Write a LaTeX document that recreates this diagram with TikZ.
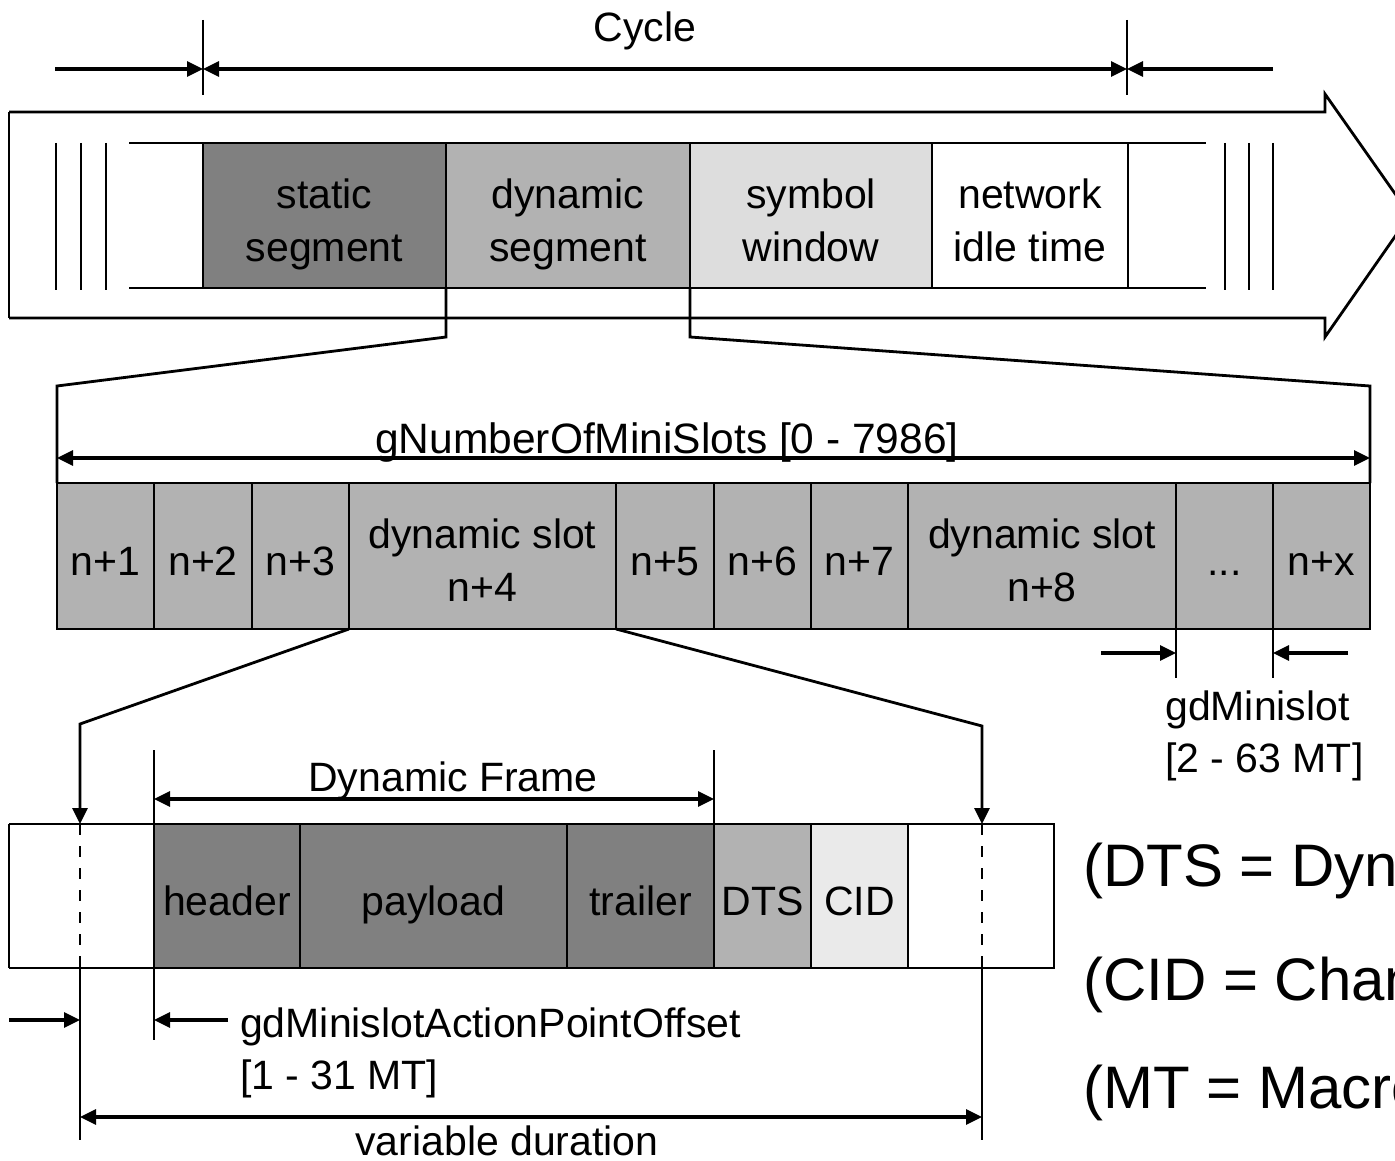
\documentclass[tikz,border=0pt]{standalone}
\usepackage{fontspec}
\setmainfont{Liberation Sans}
\usetikzlibrary{arrows.meta}
\definecolor{gdark}{HTML}{808080}
\definecolor{gmid}{HTML}{B2B2B2}
\definecolor{glight}{HTML}{DDDDDD}
\definecolor{gpale}{HTML}{EAEAEA}
\begin{document}
\begin{tikzpicture}[x=1pt,y=-1pt,
  txt/.style={font=\fontsize{41pt}{53pt}\selectfont, inner sep=0pt},
  lbl/.style={txt, align=center, yshift=-8.5pt},
  legend/.style={font=\fontsize{60pt}{72pt}\selectfont, inner sep=0pt, anchor=base west},
  box/.style={draw, line width=2.8pt, inner sep=0pt, outer sep=0pt, anchor=north west},
  tip/.style={-{Triangle[length=16pt,width=15pt]}},
  dim/.style={line width=3.2pt, -{Triangle[length=16pt,width=15pt]}},
  ddim/.style={line width=3.2pt, {Triangle[length=16pt,width=15pt]}-{Triangle[length=16pt,width=15pt]}},
  tickline/.style={line width=2.5pt},
  edge/.style={line width=2.8pt},
  thinedge/.style={line width=1.4pt},
]
\useasboundingbox (0,0) rectangle (1395,1161);
\clip (0,0) rectangle (1395,1161);

% ---------- Cycle dimension ----------
\coordinate (cyL) at (55,69);
\coordinate (cyA) at (203,69);
\coordinate (cyB) at (1127,69);
\coordinate (cyR) at (1273,69);
\coordinate (tkA1) at (203,20);
\coordinate (tkA2) at (203,95);
\coordinate (tkB1) at (1127,20);
\coordinate (tkB2) at (1127,95);
\draw[tickline] (tkA1) -- (tkA2);
\draw[tickline] (tkB1) -- (tkB2);
\draw[dim] (cyL) -- (cyA);
\draw[ddim] (cyA) -- (cyB);
\draw[dim] (cyR) -- (cyB);
\node[txt, anchor=base] (cycle) at (645,42) {Cycle};

% ---------- big arrow ----------
\draw[edge, line join=miter] (9,112) -- (1325,112) -- (1325,94) -- (1410,215) -- (1325,337) -- (1325,318) -- (9,318);
\draw[thinedge] (9,112) -- (9,318);
\draw[edge] (129,143) -- (1206,143);
\draw[edge] (129,288) -- (1206,288);
\foreach \x in {56,81,106,1225,1249,1273} \draw[edge] (\x,143) -- (\x,290);

% ---------- segments ----------
\node[box, fill=gdark, minimum width=243pt, minimum height=145pt] (static) at (203,143) {};
\node[box, fill=gmid, minimum width=244pt, minimum height=145pt] (dynseg) at (446,143) {};
\node[box, fill=glight, minimum width=242pt, minimum height=145pt] (symwin) at (690,143) {};
\node[box, fill=white, minimum width=196pt, minimum height=145pt] (nit) at (932,143) {};
\node[lbl] (lstatic) at (static) {\strut static\\\strut segment};
\node[lbl] (ldynseg) at (dynseg) {\strut dynamic\\\strut segment};
\node[lbl] (lsymwin) at (symwin) {\strut symbol\\\strut window};
\node[lbl] (lnit) at (nit) {\strut network\\\strut idle time};

% ---------- slots ----------
\foreach \n/\x/\w in {s1/57/97, s2/154/98, s3/252/97, s4/349/267, s5/616/98, s6/714/97, s7/811/97, s8/908/268, s9/1176/97, sx/1273/97}
  \node[box, fill=gmid, minimum width=\w pt, minimum height=146pt] (\n) at (\x,483) {};
\node[lbl] (ls1) at (s1) {\strut n+1};
\node[lbl] (ls2) at (s2) {\strut n+2};
\node[lbl] (ls3) at (s3) {\strut n+3};
\node[lbl] (ls4) at (s4) {\strut dynamic slot\\\strut n+4};
\node[lbl] (ls5) at (s5) {\strut n+5};
\node[lbl] (ls6) at (s6) {\strut n+6};
\node[lbl] (ls7) at (s7) {\strut n+7};
\node[lbl] (ls8) at (s8) {\strut dynamic slot\\\strut n+8};
\node[lbl] (ls9) at (s9) {\strut ...};
\node[lbl] (lsx) at (sx) {\strut n+x};

% connectors segment -> slots
\coordinate (kL1) at (446,337);
\coordinate (kL2) at (57,386);
\coordinate (kR1) at (690,337);
\coordinate (kR2) at (1370,386);
\draw[edge] (dynseg.south west) -- (kL1) -- (kL2) -- (s1.north west);
\draw[edge] (dynseg.south east) -- (kR1) -- (kR2) -- (sx.north east);

% gNumberOfMiniSlots
\coordinate (gnL) at (57,458);
\coordinate (gnR) at (1370,458);
\draw[ddim] (gnL) -- (gnR);
\node[txt, anchor=base, font=\fontsize{42.5pt}{53pt}\selectfont] (gnum) at (667,453) {gNumberOfMiniSlots [0 - 7986]};

% gdMinislot
\coordinate (m1) at (1176,678);
\coordinate (m2) at (1273,678);
\draw[tickline] (s9.south west) -- (m1);
\draw[tickline] (sx.south west) -- (m2);
\coordinate (ma) at (1101,653);
\coordinate (mb) at (1176,653);
\coordinate (mc) at (1348,653);
\coordinate (md) at (1273,653);
\draw[dim] (ma) -- (mb);
\draw[dim] (mc) -- (md);
\node[txt, anchor=base west] (gdm1) at (1165,720) {gdMinislot};
\node[txt, anchor=base west] (gdm2) at (1165,772) {[2 - 63 MT]};

% ---------- frame ----------
\coordinate (fNW) at (9,824);
\coordinate (fNE) at (1054,824);
\coordinate (fSE) at (1054,968);
\coordinate (fSW) at (9,968);
\draw[edge, line join=miter] (fNW) -- (fNE) -- (fSE) -- (fSW);
\draw[thinedge] (fNW) -- (fSW);
\foreach \n/\x/\w/\c in {hdr/154/146/gdark, pay/300/267/gdark, trl/567/147/gdark, dts/714/97/gmid, cid/811/97/gpale}
  \node[box, fill=\c, minimum width=\w pt, minimum height=144pt] (\n) at (\x,824) {};
\node[lbl] (lhdr) at (hdr) {\strut header};
\node[lbl] (lpay) at (pay) {\strut payload};
\node[lbl] (ltrl) at (trl) {\strut trailer};
\node[lbl] (ldts) at (dts) {\strut DTS};
\node[lbl] (lcid) at (cid) {\strut CID};

% connectors slot -> frame
\coordinate (jL1) at (80,724);
\coordinate (jL2) at (80,824);
\coordinate (jR1) at (982,726);
\coordinate (jR2) at (982,824);
\draw[edge, tip] (s4.south west) -- (jL1) -- (jL2);
\draw[edge, tip] (s4.south east) -- (jR1) -- (jR2);
\coordinate (dL) at (80,968);
\coordinate (dR) at (982,968);
\coordinate (eL) at (80,1140);
\coordinate (eR) at (982,1140);
\draw[line width=2.5pt, dash pattern=on 11pt off 11pt] (jL2) -- (dL);
\draw[line width=2.5pt, dash pattern=on 11pt off 11pt] (jR2) -- (dR);
\draw[tickline] (dL) -- (eL);
\draw[tickline] (dR) -- (eR);

% Dynamic Frame
\coordinate (fa1) at (154,750);
\coordinate (fa2) at (154,1040);
\coordinate (fb1) at (714,750);
\draw[tickline] (fa1) -- (fa2);
\draw[tickline] (fb1) -- (dts.north west);
\coordinate (dfL) at (154,799);
\coordinate (dfR) at (714,799);
\draw[ddim] (dfL) -- (dfR);
\node[txt, anchor=base] (dynframe) at (453,791) {Dynamic Frame};

% gdMinislotActionPointOffset
\coordinate (oa) at (9,1020);
\coordinate (ob) at (80,1020);
\coordinate (oc) at (228,1020);
\coordinate (od) at (154,1020);
\draw[dim] (oa) -- (ob);
\draw[dim] (oc) -- (od);
\node[txt, anchor=base west] (apo1) at (240,1037) {gdMinislotActionPointOffset};
\node[txt, anchor=base west] (apo2) at (240,1089) {[1 - 31 MT]};

% variable duration
\coordinate (vL) at (80,1117);
\coordinate (vR) at (982,1117);
\draw[ddim] (vL) -- (vR);
\node[txt, anchor=base] (vardur) at (507,1155) {variable duration};

% legend (cut off at the right edge, as in the original)
\node[legend] (leg1) at (1083,886) {(DTS = Dynamic Trailing Sequence)};
\node[legend] (leg2) at (1083,1000) {(CID = Channel Idle Delimiter)};
\node[legend] (leg3) at (1083,1108) {(MT = Macrotick)};
\end{tikzpicture}
\end{document}
